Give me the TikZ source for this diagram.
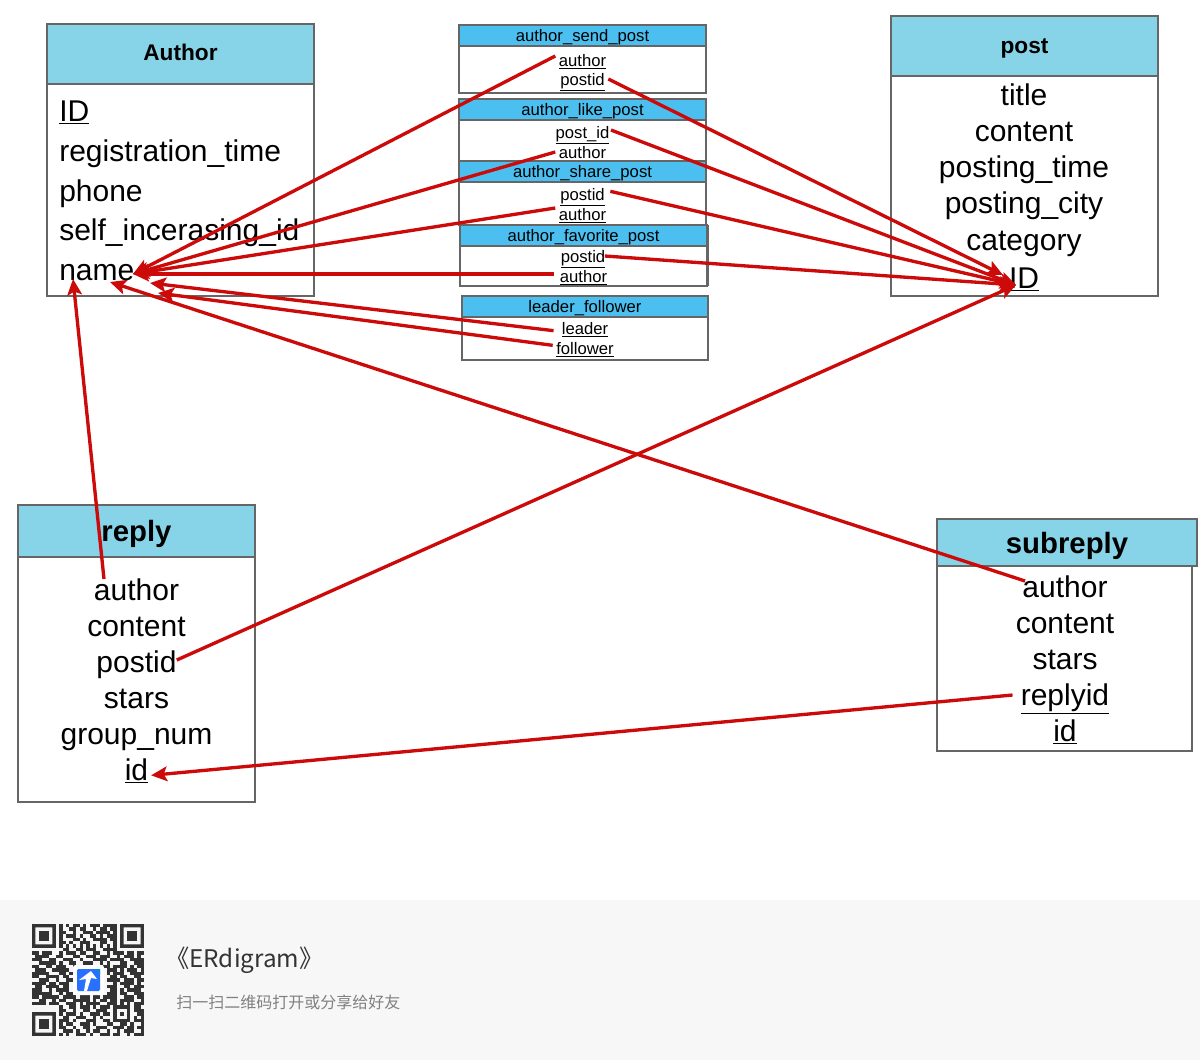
\documentclass[tikz,border=0pt]{standalone}
\usepackage{fontspec}
\setmainfont{Liberation Sans}
\newfontfamily\cjkfont{Noto Sans CJK SC}
\usetikzlibrary{arrows.meta}
\definecolor{TableLine}{RGB}{102, 102, 102}
\definecolor{HeadTeal}{RGB}{135, 212, 232}
\definecolor{HeadBlue}{RGB}{75, 192, 240}
\definecolor{LinkRed}{RGB}{204, 10, 10}
\definecolor{FootGray}{RGB}{247, 247, 247}
\definecolor{QrDark}{RGB}{51, 51, 51}
\definecolor{LogoBlue}{RGB}{41, 112, 255}
\tikzset{
  tableline/.style={draw=TableLine, line width=1.2pt},
  bigrow/.style={inner sep=0pt, text height=18pt, text depth=2.5pt, font=\fontsize{22.5}{27}\selectfont},
  smallrow/.style={inner sep=2.5pt, text height=10.5pt, text depth=1.5pt, font=\fontsize{12.5}{15}\selectfont},
  bighead/.style={inner sep=0pt, font=\bfseries\fontsize{17}{20}\selectfont},
  hugehead/.style={inner sep=0pt, font=\bfseries\fontsize{22}{26}\selectfont},
  smallhead/.style={inner sep=0pt, yshift=-1.5pt, font=\fontsize{12.5}{15}\selectfont},
  relation/.style={draw=LinkRed, line width=2.5pt, -{Stealth[length=12pt, width=11pt, inset=2.5pt]}}
}

\begin{document}
\begin{tikzpicture}[x=0.75pt, y=-0.75pt]
    \useasboundingbox (0,0) rectangle (1200,1060);
    \fill[white] (0,0) rectangle (1200,1060);

    % Author table
    \draw[tableline] (47,84) rectangle (314,296);
    \draw[tableline, fill=HeadTeal] (47,24) rectangle (314,84);
    \node[bighead] (author_head) at (180.5,52) {Author};
    \node[bigrow, anchor=west] (a_id) at (59,111) {\underline{ID}};
    \node[bigrow, anchor=west] (a_time) at (59,151) {registration\_time};
    \node[bigrow, anchor=west] (a_phone) at (59,191) {phone};
    \node[bigrow, anchor=west] (a_self) at (59,230) {self\_incerasing\_id};
    \node[bigrow, anchor=west] (a_name) at (59,270) {name};

    % Post table
    \draw[tableline] (891,76) rectangle (1158,296);
    \draw[tableline, fill=HeadTeal] (891,16) rectangle (1158,76);
    \node[bighead] (post_head) at (1024.5,48.5) {post};
    \node[bigrow] (p_title) at (1024,95) {title};
    \node[bigrow] (p_content) at (1024,131) {content};
    \node[bigrow] (p_time) at (1024,167) {posting\_time};
    \node[bigrow] (p_city) at (1024,203) {posting\_city};
    \node[bigrow] (p_cat) at (1024,240) {category};
    \node[bigrow] (p_id) at (1024,278) {\underline{ID}};

    % Small tables
    \draw[tableline] (459,46) rectangle (706,93);
    \draw[tableline, fill=HeadBlue] (459,25) rectangle (706,46);
    \node[smallhead] (send_head) at (582.5,35.5) {author\_send\_post};
    \node[smallrow] (send_author) at (582.5,60) {\underline{author}};
    \node[smallrow] (send_post) at (582.5,79) {\underline{postid}};

    \draw[tableline] (459,120) rectangle (706,161);
    \draw[tableline, fill=HeadBlue] (459,99) rectangle (706,120);
    \node[smallhead] (like_head) at (582.5,109.5) {author\_like\_post};
    \node[smallrow] (like_post) at (582.5,132) {\underline{post\_id}};
    \node[smallrow] (like_author) at (582.5,152) {\underline{author}};

    \draw[tableline] (459,182) rectangle (706,225);
    \draw[tableline, fill=HeadBlue] (459,161) rectangle (706,182);
    \node[smallhead] (share_head) at (582.5,171.5) {author\_share\_post};
    \node[smallrow] (share_post) at (582.5,194) {\underline{postid}};
    \node[smallrow] (share_author) at (582.5,214) {\underline{author}};

    \draw[tableline] (460,246) rectangle (707,286);
    \draw[tableline, fill=HeadBlue] (460,225) rectangle (707,246);
    \draw[tableline] (708,225) -- (708,286);
    \node[smallhead] (fav_head) at (583.5,235.5) {author\_favorite\_post};
    \node[smallrow] (fav_post) at (583,256) {\underline{postid}};
    \node[smallrow] (fav_author) at (583.5,276) {\underline{author}};

    \draw[tableline] (462,317) rectangle (708,360);
    \draw[tableline, fill=HeadBlue] (462,296) rectangle (708,317);
    \node[smallhead] (lead_head) at (585,306.5) {leader\_follower};
    \node[smallrow] (lead_leader) at (585,328) {\underline{leader}};
    \node[smallrow] (lead_follower) at (585,348) {\underline{follower}};

    % Reply table
    \draw[tableline] (18,557) rectangle (255,802);
    \draw[tableline, fill=HeadTeal] (18,505) rectangle (255,557);
    \node[hugehead] (reply_head) at (136.5,534) {reply};
    \node[bigrow] (r_author) at (136.5,590) {author};
    \node[bigrow] (r_content) at (136.5,626) {content};
    \node[bigrow] (r_post) at (136.5,662) {postid};
    \node[bigrow] (r_stars) at (136.5,698) {stars};
    \node[bigrow] (r_group) at (136.5,734) {group\_num};
    \node[bigrow] (r_id) at (136.5,770) {\underline{id}};

    % Subreply table
    \draw[tableline] (937,566) rectangle (1192,751);
    \draw[tableline, fill=HeadTeal] (937,519) rectangle (1197,566);
    \node[hugehead] (sub_head) at (1067,546) {subreply};
    \node[bigrow] (s_author) at (1065,587) {author};
    \node[bigrow] (s_content) at (1065,623) {content};
    \node[bigrow] (s_stars) at (1065,659) {stars};
    \node[bigrow] (s_reply) at (1065,695) {\underline{replyid}};
    \node[bigrow] (s_id) at (1065,731) {\underline{id}};

    % Arrow ends
    \coordinate (name_in) at (133,274);
    \coordinate (name_low) at (110,282);
    \coordinate (name_lead) at (150,283);
    \coordinate (name_follow) at (158,293);
    \coordinate (name_foot) at (73,279);
    \coordinate (id_top) at (1003,275);
    \coordinate (id_in) at (1016,285);
    \coordinate (reply_out) at (104,579);
    \coordinate (sub_out) at (1025,581);

    % Relations
    \draw[relation] ([yshift=3pt]send_author.west) -- (name_in);
    \draw[relation] (like_author.west) -- (name_in);
    \draw[relation] ([yshift=4.5pt]share_author.west) -- (name_in);
    \draw[relation] ([xshift=-2pt, yshift=1.5pt]fav_author.west) -- (name_in);
    \draw[relation] ([xshift=-3.5pt, yshift=-2pt]lead_leader.west) -- (name_lead);
    \draw[relation] ([yshift=2pt]lead_follower.west) -- (name_follow);
    \draw[relation] (sub_out) -- (name_low);
    \draw[relation] (reply_out) -- (name_foot);
    \draw[relation] (send_post.east) -- (id_top);
    \draw[relation] ([xshift=-1.5pt, yshift=1.5pt]like_post.east) -- (id_in);
    \draw[relation] ([xshift=1.5pt, yshift=2pt]share_post.east) -- (id_in);
    \draw[relation] ([xshift=-3pt]fav_post.east) -- (id_in);
    \draw[relation] ([yshift=1.5pt]r_post.east) -- (id_in);
    \draw[relation] ([xshift=-6pt]s_reply.west) -- ([xshift=2pt, yshift=-4pt]r_id.east);

    % Footer
    \fill[FootGray] (0,900) rectangle (1200,1060);
    \node[anchor=west, inner sep=0pt, text=QrDark, font=\cjkfont\fontsize{18.2}{22}\selectfont] (foot_title) at (165,960) {《ERdigram》};
    \node[anchor=west, inner sep=0pt, text=gray, font=\cjkfont\fontsize{12}{15}\selectfont] (foot_hint) at (176,1002) {扫一扫二维码打开或分享给好友};

    % QR code
    \begin{scope}[shift={(32,924)}, x=2.545pt, y=-2.545pt]
      \foreach \fx/\fy in {0/0, 26/0, 0/26} {
        \fill[QrDark, even odd rule] (\fx,\fy) rectangle ++(7,7) (\fx+1,\fy+1) rectangle ++(5,5);
        \fill[QrDark] (\fx+2,\fy+2) rectangle ++(3,3);
      }
      \foreach \row/\runs in {
        0/{8/1,10/1,12/2,15/1,17/3,21/4},
        1/{8/1,11/2,14/2,18/1,20/2,23/2},
        2/{8/2,12/1,15/3,19/4,24/1},
        3/{8/1,10/3,14/1,17/2,20/1,22/3},
        4/{8/1,12/2,15/1,18/4,23/2},
        5/{8/2,11/1,14/3,20/2,24/1},
        6/{8/1,10/1,12/1,14/1,16/1,18/1,20/1,22/1,24/1},
        7/{9/2,13/2,16/3,21/4},
        8/{0/2,3/3,8/1,10/3,14/2,18/2,22/1,24/3,28/2,31/2},
        9/{1/4,7/2,12/2,16/3,20/3,25/1,27/3,31/1},
        10/{0/3,5/2,9/3,14/1,18/4,23/4,29/4},
        11/{2/5,8/1,11/2,15/3,20/1,22/1,26/2,30/3},
        12/{0/2,4/2,7/3,12/1,14/5,21/2,24/4,29/1,31/2},
        13/{1/3,6/5,22/3,26/1,28/3,32/1},
        14/{0/5,8/2,11/1,22/1,24/3,29/4},
        15/{0/2,4/4,9/2,23/2,26/2,30/2},
        16/{2/3,7/1,10/2,22/4,27/3,31/2},
        17/{0/4,5/2,8/3,24/1,26/4,31/1},
        18/{1/2,4/4,9/2,22/3,27/2,30/3},
        19/{0/3,5/1,7/4,23/2,26/1,28/4},
        20/{0/6,8/1,10/2,22/3,26/2,30/3},
        21/{0/2,3/5,9/4,14/3,18/2,21/4,27/3,31/2},
        22/{2/2,6/1,8/2,12/5,18/1,20/2,23/2,26/4,32/1},
        23/{0/4,5/3,10/3,14/1,16/4,22/3,26/1,28/1,30/3},
        24/{8/1,11/2,14/3,18/1,20/3,24/5,30/2},
        25/{8/2,12/1,15/2,19/3,24/1,28/1,30/3},
        26/{8/1,10/3,14/1,17/3,21/2,24/1,26/1,28/1,31/2},
        27/{9/2,13/3,18/1,20/1,24/1,28/1,30/1,32/1},
        28/{8/3,12/1,16/3,21/2,24/5,30/3},
        29/{8/1,10/2,14/3,18/1,22/2,26/2,29/1,32/1},
        30/{8/2,12/1,15/2,19/3,24/3,28/2,31/2},
        31/{9/3,13/1,16/1,18/2,22/1,25/1,27/3,32/1},
        32/{8/1,10/1,13/3,17/1,20/3,24/2,28/1,30/3}} {
        \foreach \col/\len in \runs {
          \fill[QrDark] (\col,\row) rectangle ++(\len,1);
        }
      }
    \end{scope}

    % QR logo
    \fill[white, rounded corners=2pt] (73,965) rectangle (104,995);
    \fill[LogoBlue, rounded corners=1pt] (77,969) rectangle (100,991);
    \fill[cyan!70!blue] (95,969) -- (100,969) -- (100,974) -- cycle;
    \fill[white] (91,971) -- (97,979) -- (91,978) -- (87,991) -- (84,991) -- (86,979) -- (79,980) -- cycle;
  \end{tikzpicture}
\end{document}
